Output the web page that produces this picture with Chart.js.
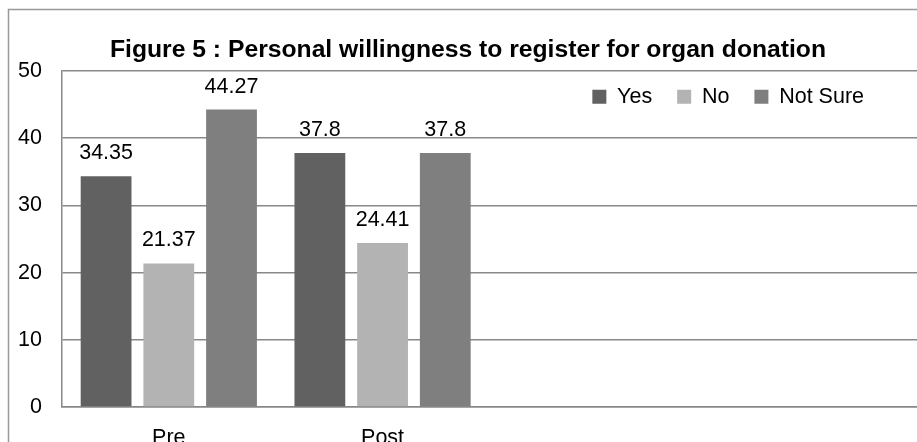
<!DOCTYPE html>
<html lang="en">
<head>
  <meta charset="UTF-8">
  <title>Figure 5 : Personal willingness to register for organ donation</title>
  <script src="https://cdn.jsdelivr.net/npm/chart.js"></script>
  <style>
    html, body { margin: 0; padding: 0; background: #fff; }
    #wrap { width: 917px; height: 442px; }
  </style>
</head>
<body>
  <div id="wrap"><canvas id="myChart" width="917" height="442"></canvas></div>

  <script>
    const categories = ['Pre', 'Post', '', ''];
    const yesValues = [34.35, 37.8];
    const noValues = [21.37, 24.41];
    const notSureValues = [44.27, 37.8];
    const yTicks = [0, 10, 20, 30, 40, 50];

    const font = "'Liberation Sans', Arial, sans-serif";
    const textSize = 21.5;

    // outer frame of the figure (runs off the right and bottom edges)
    const framePlugin = {
      id: 'frame',
      beforeDraw(chart) {
        const c = chart.ctx;
        c.save();
        c.strokeStyle = '#999';
        c.lineWidth = 1.5;
        c.strokeRect(8.5, 9.5, chart.width + 20, chart.height + 20);
        c.restore();
      }
    };

    // value labels above each bar
    const valueLabels = {
      id: 'valueLabels',
      afterDatasetsDraw(chart) {
        const c = chart.ctx;
        c.save();
        c.font = textSize + 'px ' + font;
        c.fillStyle = '#000';
        c.textAlign = 'center';
        c.textBaseline = 'alphabetic';
        chart.data.datasets.forEach((ds, i) => {
          chart.getDatasetMeta(i).data.forEach((bar, j) => {
            if (ds.data[j] == null) return;
            c.fillText(String(ds.data[j]), bar.x, bar.y - 17);
          });
        });
        c.restore();
      }
    };

    // legend sits inside the plot in one row; title centred a little right, as in the original
    const placeBoxes = {
      id: 'placeBoxes',
      beforeLayout(chart) {
        if (chart.legend) chart.legend.isHorizontal = () => true;
      },
      afterLayout(chart) {
        const area = chart.chartArea;
        const lg = chart.legend;
        const pad = lg.options.labels.padding;
        lg.left = area.left;
        lg.right = area.right - 53 + pad;
        lg.top = area.top - 10;
        lg.bottom = lg.top + lg.height;
        chart.titleBlock.left += 18;
      }
    };

    new Chart(document.getElementById('myChart'), {
      type: 'bar',
      data: {
        labels: categories,
        datasets: [
          { label: 'Yes', data: yesValues, backgroundColor: '#616161' },
          { label: 'No', data: noValues, backgroundColor: '#b3b3b3' },
          { label: 'Not Sure', data: notSureValues, backgroundColor: '#7f7f7f' }
        ]
      },
      options: {
        responsive: false,
        animation: false,
        categoryPercentage: 0.88,
        barPercentage: 0.81,
        layout: { padding: { left: -2, right: -3, top: 0, bottom: -26.8 } },
        plugins: {
          title: {
            display: true,
            text: 'Figure 5 : Personal willingness to register for organ donation',
            color: '#000',
            font: { family: font, size: 24.7, weight: 'bold', lineHeight: 1.2 },
            padding: { top: 35.5, bottom: 5.9 }
          },
          legend: {
            position: 'chartArea',
            align: 'end',
            labels: {
              color: '#000',
              font: { family: font, size: textSize },
              boxWidth: 14,
              boxHeight: 14,
              padding: 25
            }
          },
          tooltip: { enabled: false }
        },
        scales: {
          x: {
            grid: { display: false, drawTicks: false },
            border: { display: true, color: '#888', width: 1.5 },
            ticks: { color: '#000', font: { family: font, size: textSize }, padding: 18, maxRotation: 0 }
          },
          y: {
            min: 0,
            max: 50,
            afterBuildTicks(axis) { axis.ticks = yTicks.map(v => ({ value: v })); },
            grid: { color: '#888', lineWidth: 1.5, drawTicks: false },
            border: { display: true, color: '#888', width: 1.5 },
            ticks: { color: '#000', font: { family: font, size: textSize }, padding: 20 }
          }
        }
      },
      plugins: [framePlugin, valueLabels, placeBoxes]
    });
  </script>
</body>
</html>
